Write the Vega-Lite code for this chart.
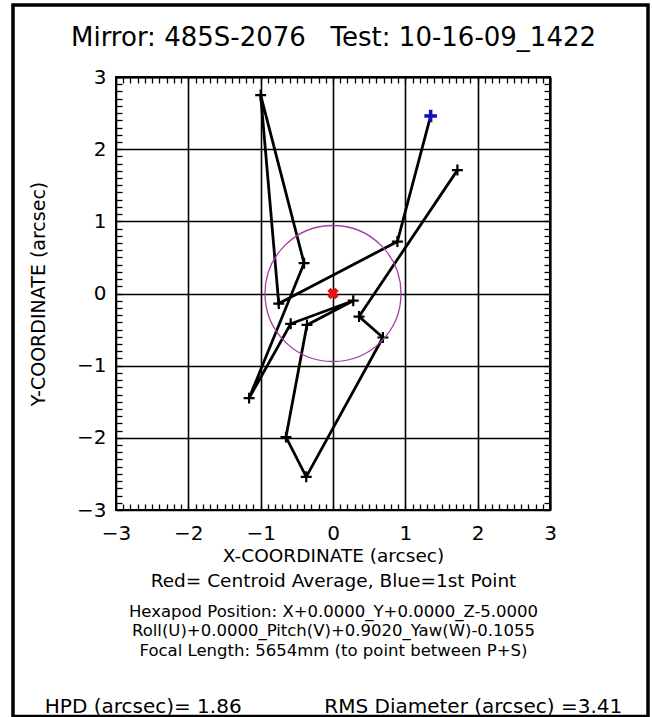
{
  "$schema": "https://vega.github.io/schema/vega-lite/v6.json",
  "width": 434,
  "height": 433,
  "autosize": {"type": "none"},
  "padding": {"left": 116, "top": 77, "right": 102, "bottom": 207},
  "background": "white",
  "config": {
    "font": "DejaVu Sans",
    "view": {"stroke": "black", "strokeWidth": 2},
    "axis": {"labelColor": "black", "titleColor": "black", "titleFontWeight": "normal", "labelFont": "DejaVu Sans", "titleFont": "DejaVu Sans", "labelFlush": false, "labelOverlap": false}
  },
  "datasets": {
    "path": [
      {"i": 1, "x": 1.35, "y": 2.46},
      {"i": 2, "x": 0.89, "y": 0.72},
      {"i": 3, "x": -0.75, "y": -0.14},
      {"i": 4, "x": -1.0, "y": 2.75},
      {"i": 5, "x": -0.40, "y": 0.42},
      {"i": 6, "x": -1.16, "y": -1.45},
      {"i": 7, "x": -0.585, "y": -0.42},
      {"i": 8, "x": 0.28, "y": -0.10},
      {"i": 9, "x": -0.36, "y": -0.435},
      {"i": 10, "x": -0.65, "y": -1.99},
      {"i": 11, "x": -0.37, "y": -2.54},
      {"i": 12, "x": 0.69, "y": -0.61},
      {"i": 13, "x": 0.36, "y": -0.32},
      {"i": 14, "x": 1.72, "y": 1.71}
    ],
    "centroid": [{"x": 0.0, "y": 0.0}]
  },
  "layer": [
    {
      "data": {"values": [{}]},
      "mark": {"type": "rect", "filled": false, "stroke": "black", "strokeWidth": 3.5},
      "encoding": {
        "x": {"datum": -4.424, "type": "quantitative", "scale": {"domain": [-3, 3], "nice": false, "zero": false}, "axis": null},
        "x2": {"datum": 4.355},
        "y": {"datum": 3.997, "type": "quantitative", "scale": {"domain": [-3, 3], "nice": false, "zero": false}, "axis": null},
        "y2": {"datum": -5.86}
      }
    },
    {
      "data": {"name": "path"},
      "mark": {"type": "line", "color": "black", "strokeWidth": 2.8},
      "encoding": {
        "order": {"field": "i", "type": "quantitative"},
        "x": {"field": "x", "type": "quantitative", "scale": {"domain": [-3, 3], "nice": false, "zero": false},
          "axis": {"orient": "bottom", "values": [-3, -2, -1, 0, 1, 2, 3], "ticks": false, "domain": false, "grid": true, "gridColor": "black", "gridWidth": 1.6, "gridOpacity": 1, "labelFontSize": 20, "labelPadding": 13, "title": ["X-COORDINATE (arcsec)", "Red= Centroid Average, Blue=1st Point"], "titleFontSize": 18.5, "titleLineHeight": 25, "titlePadding": 3}},
        "y": {"field": "y", "type": "quantitative", "scale": {"domain": [-3, 3], "nice": false, "zero": false},
          "axis": {"orient": "left", "values": [-3, -2, -1, 0, 1, 2, 3], "ticks": false, "domain": false, "grid": true, "gridColor": "black", "gridWidth": 1.6, "gridOpacity": 1, "labelFontSize": 20, "labelPadding": 10, "title": "Y-COORDINATE (arcsec)", "titleFontSize": 19, "titlePadding": 28}}
      }
    },
    {
      "data": {"name": "path"},
      "mark": {"type": "point", "shape": "M-1,0H1M0,-1V1", "filled": false, "stroke": "black", "strokeWidth": 2.2, "size": 120, "opacity": 1},
      "encoding": {
        "x": {"field": "x", "type": "quantitative", "scale": {"domain": [-3, 3], "nice": false, "zero": false},
          "axis": {"orient": "bottom", "tickCount": 60, "labels": false, "domain": false, "grid": false, "ticks": true, "tickSize": -6, "tickColor": "black", "tickWidth": 1.3, "title": null}},
        "y": {"field": "y", "type": "quantitative", "scale": {"domain": [-3, 3], "nice": false, "zero": false},
          "axis": {"orient": "left", "tickCount": 60, "labels": false, "domain": false, "grid": false, "ticks": true, "tickSize": -6, "tickColor": "black", "tickWidth": 1.3, "title": null}}
      }
    },
    {
      "data": {"name": "centroid"},
      "mark": {"type": "point", "shape": "circle", "filled": false, "stroke": "#a63ca6", "strokeWidth": 1.3, "size": 18500, "opacity": 1},
      "encoding": {
        "x": {"field": "x", "type": "quantitative", "scale": {"domain": [-3, 3], "nice": false, "zero": false},
          "axis": {"orient": "bottom", "labels": false, "ticks": false, "domain": false, "grid": false, "title": ["Hexapod Position: X+0.0000_Y+0.0000_Z-5.0000", "Roll(U)+0.0000_Pitch(V)+0.9020_Yaw(W)-0.1055", "Focal Length: 5654mm (to point between P+S)"], "titleFontSize": 16.5, "titleLineHeight": 19.5, "titlePadding": 93}},
        "y": {"field": "y", "type": "quantitative", "scale": {"domain": [-3, 3], "nice": false, "zero": false}, "axis": null}
      }
    },
    {
      "data": {"name": "centroid"},
      "mark": {"type": "point", "shape": "cross", "angle": 45, "filled": true, "color": "#ee1111", "size": 130, "opacity": 1},
      "encoding": {
        "x": {"field": "x", "type": "quantitative", "scale": {"domain": [-3, 3], "nice": false, "zero": false},
          "axis": {"orient": "bottom", "labels": false, "ticks": false, "domain": false, "grid": false, "title": "HPD (arcsec)= 1.86\u00a0\u00a0\u00a0\u00a0\u00a0\u00a0\u00a0\u00a0\u00a0\u00a0\u00a0\u00a0\u00a0RMS Diameter (arcsec) =3.41", "titleFontSize": 20, "titlePadding": 186}},
        "y": {"field": "y", "type": "quantitative", "scale": {"domain": [-3, 3], "nice": false, "zero": false}, "axis": null}
      }
    },
    {
      "data": {"name": "path"},
      "transform": [{"filter": "datum.i == 1"}],
      "mark": {"type": "point", "shape": "M-1,0H1M0,-1V1", "filled": false, "stroke": "#1010c0", "strokeWidth": 3.5, "size": 160, "opacity": 1},
      "encoding": {
        "x": {"field": "x", "type": "quantitative", "scale": {"domain": [-3, 3], "nice": false, "zero": false},
          "axis": {"orient": "top", "tickCount": 60, "labels": false, "domain": true, "domainColor": "black", "domainWidth": 2, "grid": false, "ticks": true, "tickSize": -6, "tickColor": "black", "tickWidth": 1.3, "title": "Mirror: 485S-2076\u00a0\u00a0\u00a0Test: 10-16-09_1422", "titleFontSize": 26, "titlePadding": 26}},
        "y": {"field": "y", "type": "quantitative", "scale": {"domain": [-3, 3], "nice": false, "zero": false},
          "axis": {"orient": "right", "tickCount": 60, "labels": false, "domain": true, "domainColor": "black", "domainWidth": 2, "grid": false, "ticks": true, "tickSize": -6, "tickColor": "black", "tickWidth": 1.3, "title": null}}
      }
    }
  ],
  "resolve": {"axis": {"x": "independent", "y": "independent"}}
}
